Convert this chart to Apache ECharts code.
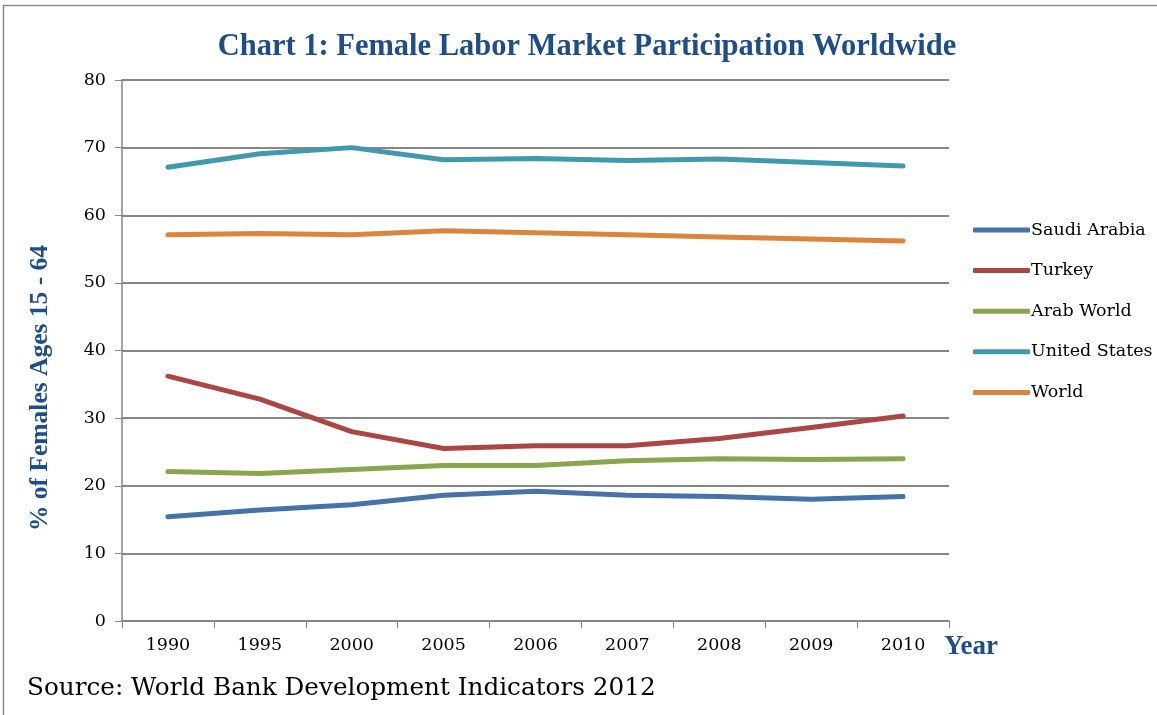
<!DOCTYPE html>
<html>
<head>
<meta charset="utf-8">
<script src="https://cdn.jsdelivr.net/npm/echarts@6/dist/echarts.min.js"></script>
<style>
  html, body { margin: 0; padding: 0; background: #fff; }
  #chart { width: 1157px; height: 715px; }
</style>
</head>
<body>
<div id="chart"></div>
<script>
const years = ['1990', '1995', '2000', '2005', '2006', '2007', '2008', '2009', '2010']

const saudiArabia  = [15.4, 16.4, 17.2, 18.6, 19.2, 18.6, 18.4, 18.0, 18.4]
const turkey       = [36.2, 32.8, 28.0, 25.5, 25.9, 25.9, 27.0, 28.6, 30.3]
const arabWorld    = [22.1, 21.8, 22.4, 23.0, 23.0, 23.7, 24.0, 23.9, 24.0]
const unitedStates = [67.1, 69.1, 70.0, 68.2, 68.4, 68.1, 68.3, 67.8, 67.3]
const world        = [57.1, 57.3, 57.1, 57.7, 57.4, 57.1, 56.8, 56.5, 56.2]

const SERIF = '"DejaVu Serif", "Liberation Serif", serif'
const BOLD_SERIF = '"Liberation Serif", "DejaVu Serif", serif'
const BLUE = '#1f4e87'

const seriesDefs = [
  { name: 'Saudi Arabia',  data: saudiArabia,  color: '#4572a7' },
  { name: 'Turkey',        data: turkey,       color: '#aa4643' },
  { name: 'Arab World',    data: arabWorld,    color: '#89a54e' },
  { name: 'United States', data: unitedStates, color: '#4198af' },
  { name: 'World',         data: world,        color: '#db843d' },
]

const chart = echarts.init(document.getElementById('chart'))

chart.setOption({
  animation: false,
  title: {
    text: 'Chart 1: Female Labor Market Participation Worldwide',
    left: 582, top: 27, textAlign: 'center',
    textStyle: { fontFamily: BOLD_SERIF, fontSize: 30.5, fontWeight: 'bold', color: BLUE },
  },
  legend: {
    orient: 'vertical',
    left: 968, top: 216,
    itemWidth: 57, itemHeight: 5, itemGap: 22.6,
    icon: 'roundRect',
    textStyle: { fontFamily: SERIF, fontSize: 17.5, color: '#000', padding: [0, 0, 0, -4] },
    data: seriesDefs.map((s) => s.name),
  },
  grid: { left: 122, right: 208, top: 80, bottom: 94 },
  xAxis: {
    type: 'category',
    data: years,
    boundaryGap: true,
    name: 'Year',
    nameLocation: 'end',
    nameGap: 0,
    nameTextStyle: {
      fontFamily: BOLD_SERIF, fontSize: 27, fontWeight: 'bold', color: BLUE,
      align: 'left', verticalAlign: 'top', padding: [13, 0, 0, -5],
    },
    axisLine: { lineStyle: { color: '#868686', width: 1.5 } },
    axisTick: { show: true, length: 7, lineStyle: { color: '#868686' } },
    axisLabel: { fontFamily: SERIF, fontSize: 17.5, color: '#000', margin: 15 },
  },
  yAxis: {
    type: 'value',
    min: 0, max: 80, interval: 10,
    axisLine: { show: true, lineStyle: { color: '#868686', width: 1.5 } },
    axisTick: { show: true, length: 7, lineStyle: { color: '#868686' } },
    axisLabel: { fontFamily: SERIF, fontSize: 17.5, color: '#000', margin: 16 },
    splitLine: { lineStyle: { color: '#868686', width: 2 } },
  },
  series: seriesDefs.map((s) => ({
    name: s.name,
    type: 'line',
    data: s.data,
    showSymbol: false,
    symbol: 'none',
    color: s.color,
    lineStyle: { color: s.color, width: 5, cap: 'round', join: 'round' },
  })),
  graphic: [
    {
      type: 'rect',
      shape: { x: 3.5, y: 5.5, width: 1200, height: 800 },
      style: { fill: 'none', stroke: '#888', lineWidth: 1.5 },
      silent: true,
    },
    {
      type: 'text',
      x: 40, y: 388,
      rotation: Math.PI / 2,
      style: {
        text: '% of Females Ages 15 - 64',
        font: 'bold 25.5px ' + BOLD_SERIF,
        fill: BLUE,
        align: 'center',
        verticalAlign: 'middle',
      },
    },
    {
      type: 'text',
      left: 27, top: 676,
      style: {
        text: 'Source: World Bank Development Indicators 2012',
        font: '24.7px ' + SERIF,
        fill: '#000',
      },
    },
  ],
})
</script>
</body>
</html>
